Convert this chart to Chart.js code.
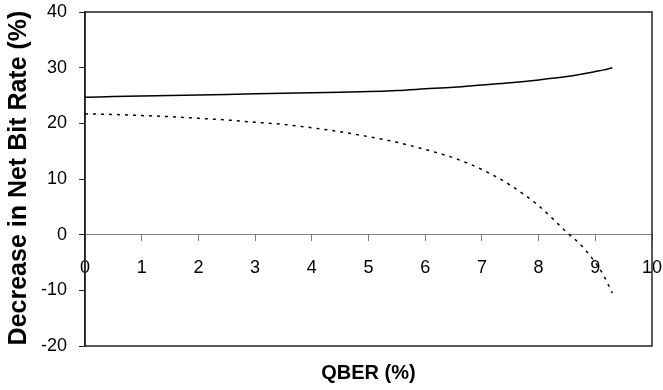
<!DOCTYPE html>
<html>
<head>
<meta charset="utf-8">
<script src="https://cdn.jsdelivr.net/npm/chart.js@4/dist/chart.umd.min.js"></script>
<style>
  html, body { margin: 0; padding: 0; background: #fff; }
  #wrap { width: 663px; height: 390px; position: relative; }
</style>
</head>
<body>
<div id="wrap"><canvas id="rateChart"></canvas></div>
<script>
// QBER sample points (%)
const qber = [0, 0.5, 1, 1.5, 2, 2.5, 3, 3.5, 4, 4.5, 5, 5.5, 6, 6.5, 7, 7.5, 8, 8.5, 8.75, 9, 9.15, 9.3]
// decrease in net bit rate (%), solid curve
const decreaseSolid = [24.7, 24.8, 24.9, 25.0, 25.1, 25.2, 25.3, 25.4, 25.5, 25.6, 25.7, 25.9, 26.2, 26.5, 26.9, 27.3, 27.8, 28.4, 28.8, 29.3, 29.6, 30.0]
// decrease in net bit rate (%), dotted curve
const decreaseDotted = [21.7, 21.6, 21.4, 21.2, 20.9, 20.6, 20.2, 19.8, 19.2, 18.5, 17.6, 16.6, 15.3, 13.8, 11.7, 8.9, 5.2, 0.4, -1.9, -5.0, -7.4, -10.5]

const xTicks = [0, 1, 2, 3, 4, 5, 6, 7, 8, 9, 10]
const yTicks = [-20, -10, 0, 10, 20, 30, 40]

const toPoints = (ys) => qber.map((x, i) => ({ x: x, y: ys[i] }))

// keep the plot box where the layout padding puts it
const noLabelPadding = (scale) => {
    scale.paddingTop = 0
    scale.paddingBottom = 0
    scale.paddingLeft = 0
    scale.paddingRight = 0
}

// box around the plot plus the two axis titles
const frameAndTitles = {
    id: 'frameAndTitles',
    beforeDatasetsDraw(chart) {
        const { ctx, chartArea: a } = chart
        ctx.save()
        ctx.strokeStyle = '#222'
        ctx.lineWidth = 1.5
        ctx.strokeRect(a.left, a.top, a.right - a.left, a.bottom - a.top)
        ctx.restore()
    },
    afterDraw(chart) {
        const { ctx, chartArea: a } = chart
        ctx.save()
        ctx.fillStyle = '#000'
        ctx.textAlign = 'center'
        ctx.textBaseline = 'middle'
        ctx.font = 'bold 20px "Liberation Sans", Arial, sans-serif'
        ctx.fillText('QBER (%)', (a.left + a.right) / 2, 373)
        ctx.translate(19, 178)
        ctx.rotate(-Math.PI / 2)
        ctx.font = 'bold 25px "Liberation Sans", Arial, sans-serif'
        ctx.fillText('Decrease in Net Bit Rate (%)', 0, 0)
        ctx.restore()
    }
}

const tickFont = { family: '"Liberation Sans", Arial, sans-serif', size: 18 }

new Chart(document.getElementById('rateChart'), {
    type: 'scatter',
    data: {
        datasets: [{
            data: toPoints(decreaseSolid),
            showLine: true,
            borderColor: '#000',
            borderWidth: 1.5,
            pointRadius: 0,
            cubicInterpolationMode: 'monotone'
        }, {
            data: toPoints(decreaseDotted),
            showLine: true,
            borderColor: '#000',
            borderWidth: 1.5,
            borderDash: [3, 5],
            pointRadius: 0,
            cubicInterpolationMode: 'monotone'
        }]
    },
    options: {
        responsive: true,
        maintainAspectRatio: false,
        animation: false,
        layout: { padding: { top: 12, right: 11, bottom: 44, left: 0 } },
        plugins: {
            legend: { display: false },
            tooltip: { enabled: false }
        },
        scales: {
            x: {
                type: 'linear',
                position: { y: 0 },
                min: 0,
                max: 10,
                afterBuildTicks: (scale) => { scale.ticks = xTicks.map(v => ({ value: v })) },
                afterFit: noLabelPadding,
                ticks: { color: '#000', font: tickFont, padding: 17, maxRotation: 0 },
                grid: { drawOnChartArea: false, drawTicks: true, tickLength: 6, color: '#808080' },
                border: { display: true, color: '#808080', width: 1 }
            },
            y: {
                min: -20,
                max: 40,
                afterBuildTicks: (scale) => { scale.ticks = yTicks.map(v => ({ value: v })) },
                afterFit: (scale) => {
                    scale.width = 85
                    noLabelPadding(scale)
                },
                ticks: { color: '#000', font: tickFont, padding: 12 },
                grid: { drawOnChartArea: false, drawTicks: true, tickLength: 6, color: '#222' },
                border: { display: true, color: '#222', width: 1.5 }
            }
        }
    },
    plugins: [frameAndTitles]
})
</script>
</body>
</html>
